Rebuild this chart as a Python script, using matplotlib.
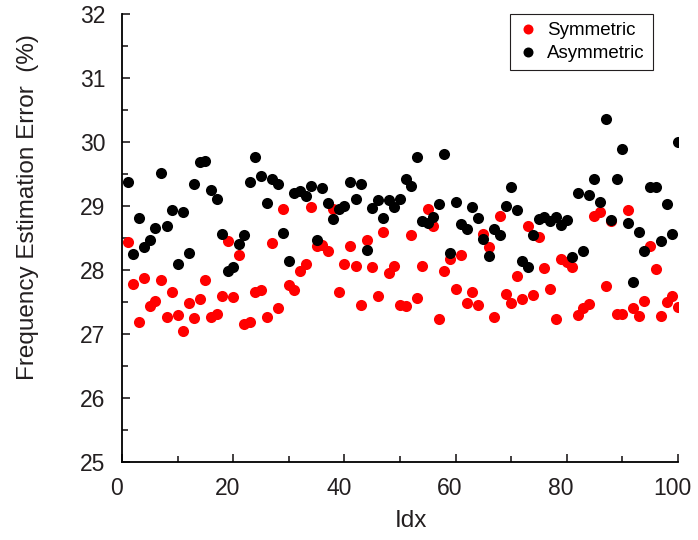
import matplotlib.pyplot as plt
import matplotlib.transforms as mtransforms
from matplotlib.ticker import MultipleLocator

plt.rcParams['font.family'] = ['Liberation Sans', 'DejaVu Sans']

# Index of each sample
idx = list(range(1, 101))

# Symmetric (red)
symmetric = [
    28.44, 27.78, 27.19, 27.88, 27.44, 27.52, 27.85, 27.27, 27.65, 27.29,
    27.04, 27.48, 27.25, 27.54, 27.84, 27.27, 27.32, 27.60, 28.45, 27.58,
    28.23, 27.16, 27.19, 27.65, 27.69, 27.26, 28.43, 27.40, 28.95, 27.77,
    27.69, 27.98, 28.10, 28.99, 28.37, 28.39, 28.29, 28.96, 27.65, 28.09,
    28.37, 28.07, 27.46, 28.47, 28.05, 27.60, 28.59, 27.95, 28.07, 27.45,
    27.44, 28.55, 27.57, 28.06, 28.95, 28.69, 27.23, 27.99, 28.17, 27.70,
    28.23, 27.48, 27.66, 27.45, 28.56, 28.36, 27.27, 28.85, 27.63, 27.49,
    27.90, 27.55, 28.69, 27.61, 28.51, 28.03, 27.71, 27.23, 28.17, 28.13,
    28.05, 27.30, 27.40, 27.47, 28.84, 28.90, 27.75, 28.76, 27.32, 27.32,
    28.94, 27.40, 27.28, 27.52, 28.38, 28.02, 27.28, 27.50, 27.59, 27.43,
]

# Asymmetric (black)
asymmetric = [
    29.38, 28.25, 28.82, 28.36, 28.47, 28.65, 29.51, 28.69, 28.94, 28.09,
    28.90, 28.27, 29.34, 29.69, 29.71, 29.25, 29.11, 28.57, 27.98, 28.05,
    28.40, 28.55, 29.38, 29.76, 29.47, 29.05, 29.42, 29.35, 28.58, 28.14,
    29.20, 29.24, 29.15, 29.32, 28.47, 29.28, 29.04, 28.80, 28.96, 29.00,
    29.38, 29.11, 29.35, 28.32, 28.97, 29.10, 28.82, 29.10, 28.98, 29.11,
    29.43, 29.31, 29.77, 28.77, 28.74, 28.83, 29.03, 29.82, 28.26, 29.06,
    28.72, 28.64, 28.98, 28.82, 28.48, 28.22, 28.64, 28.55, 29.00, 29.29,
    28.94, 28.14, 28.05, 28.54, 28.80, 28.83, 28.77, 28.83, 28.70, 28.78,
    28.21, 29.21, 28.29, 29.18, 29.42, 29.06, 30.36, 28.78, 29.43, 29.89,
    28.73, 27.82, 28.60, 28.30, 29.29, 29.29, 28.46, 29.03, 28.57, 30.00,
]

txt = '#231f20'

fig = plt.figure(figsize=(6.98, 5.4), dpi=100)
ax = fig.add_axes([0.175, 0.1444, 0.796, 0.8296])

ax.plot(idx, symmetric, 'o', color='#ff0000', markersize=8, markeredgewidth=0,
        label='Symmetric')
ax.plot(idx, asymmetric, 'o', color='black', markersize=8, markeredgewidth=0,
        label='Asymmetric')

ax.set_xlim(0, 100)
ax.set_ylim(25, 32)
ax.xaxis.set_major_locator(MultipleLocator(20))
ax.xaxis.set_minor_locator(MultipleLocator(10))
ax.yaxis.set_major_locator(MultipleLocator(1))
ax.yaxis.set_minor_locator(MultipleLocator(0.5))

# only left and bottom axis lines, ticks pointing inward
for side in ['top', 'right']:
    ax.spines[side].set_visible(False)
for side in ['left', 'bottom']:
    ax.spines[side].set_linewidth(1.3)
ax.tick_params(which='both', direction='in', width=1.2, labelsize=16.5, colors=txt)
ax.tick_params(which='major', length=6)
ax.tick_params(which='minor', length=4)
ax.tick_params(axis='y', which='major', pad=12)
ax.tick_params(axis='x', which='major', pad=11)

# x tick labels sit a little to the left of their ticks
shift = mtransforms.ScaledTranslation(-4 / 72, 0, fig.dpi_scale_trans)
for lab in ax.get_xticklabels():
    lab.set_transform(lab.get_transform() + shift)

ax.set_xlabel('Idx', fontsize=17.5, color=txt)
ax.set_ylabel('Frequency Estimation Error  (%)', fontsize=17.5, color=txt)
ax.xaxis.set_label_coords(0.52, -0.108)
ax.yaxis.set_label_coords(-0.149, 0.57)

leg = ax.legend(loc='upper left', bbox_to_anchor=(0.698, 0.999), borderaxespad=0,
                fontsize=13.5, markerscale=0.9, handletextpad=0.5, borderpad=0.4,
                labelspacing=0.33, handlelength=1.1,
                fancybox=False, framealpha=1)
leg.get_frame().set_edgecolor(txt)
leg.get_frame().set_linewidth(0.8)

plt.savefig('out.png', dpi=100)
